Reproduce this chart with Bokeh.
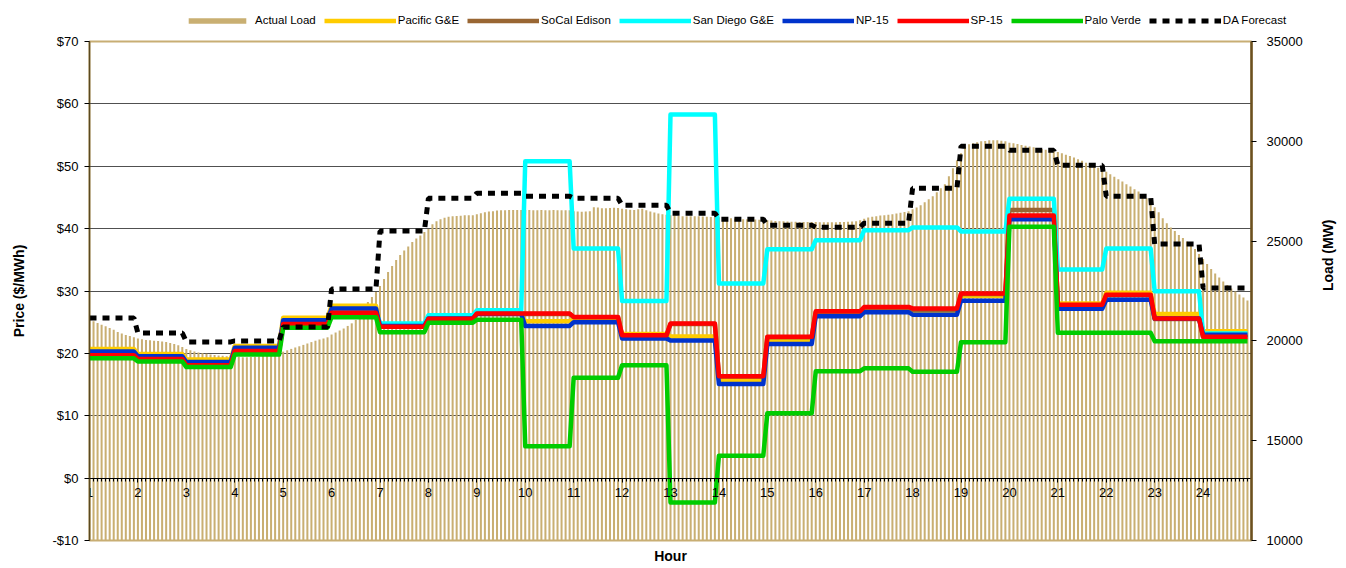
import math
from bokeh.plotting import figure
from bokeh.layouts import column, row
from bokeh.models import (Range1d, LinearAxis, Legend, LegendItem, NumeralTickFormatter,
                          FixedTicker, Title)
from bokeh.embed import file_html
from bokeh.resources import INLINE

FONT = "Liberation Sans"

hours = list(range(1, 25))
price_ticks = [-10, 0, 10, 20, 30, 40, 50, 60, 70]
load_ticks = [10000, 15000, 20000, 25000, 30000, 35000]
intervals_per_hour = 12

# hourly prices ($/MWh)
pacific_ge = [20.7, 19.9, 19.0, 21.2, 25.7, 27.65, 24.5, 25.7, 26.3, 25.15, 25.5, 23.1,
              22.7, 15.75, 22.05, 26.3, 27.0, 26.8, 29.2, 42.0, 28.0, 29.7, 26.3, 23.55]
socal_edison = [19.8, 19.2, 18.2, 20.5, 24.8, 26.6, 24.3, 25.6, 26.4, 26.3, 25.8, 22.8,
                24.7, 16.3, 22.6, 26.6, 27.3, 27.0, 29.5, 43.0, 27.7, 29.3, 25.5, 22.6]
san_diego_ge = [19.9, 19.3, 18.3, 20.6, 24.9, 26.7, 24.8, 26.1, 26.9, 50.8, 36.8, 28.4,
                58.3, 31.2, 36.7, 38.15, 39.75, 40.2, 39.55, 44.8, 33.45, 36.8, 29.95, 23.2]
np_15 = [20.3, 19.55, 18.6, 20.9, 25.3, 27.2, 24.4, 25.6, 26.3, 24.4, 25.0, 22.4,
         22.05, 15.1, 21.5, 25.95, 26.6, 26.2, 28.45, 41.5, 27.15, 28.6, 25.6, 23.0]
sp_15 = [19.7, 19.1, 18.1, 20.4, 24.7, 26.5, 24.25, 25.55, 26.4, 26.4, 25.85, 22.9,
         24.8, 16.35, 22.65, 26.75, 27.45, 27.2, 29.6, 42.1, 27.8, 29.4, 25.6, 22.65]
palo_verde = [19.2, 18.7, 17.8, 19.8, 24.1, 25.8, 23.4, 24.9, 25.4, 5.1, 16.1, 18.1,
              -3.9, 3.6, 10.4, 17.15, 17.6, 17.05, 21.8, 40.3, 23.3, 23.3, 21.95, 21.95]

# day-ahead load forecast (MW), hourly
da_forecast = [21150, 20400, 19950, 20000, 20700, 22600, 25500, 27150, 27400, 27250, 27150, 26800,
               26400, 26100, 25800, 25700, 25900, 27650, 29750, 29550, 28800, 27250, 24850, 22650]

# actual load (MW), 5-minute intervals, one row per hour
actual_load = [
    21100, 20980, 20900, 20810, 20740, 20650, 20560, 20450, 20370, 20300, 20240, 20180,
    20120, 20080, 20050, 20030, 20010, 19990, 19970, 19940, 19900, 19850, 19780, 19700,
    19600, 19530, 19470, 19420, 19380, 19350, 19320, 19290, 19270, 19250, 19230, 19220,
    19200, 19190, 19180, 19180, 19190, 19200, 19220, 19250, 19290, 19330, 19380, 19420,
    19460, 19530, 19600, 19670, 19730, 19800, 19870, 19940, 20010, 20070, 20120, 20180,
    20320, 20420, 20520, 20620, 20750, 20880, 21050, 21250, 21550, 21950, 22200, 22450,
    22750, 23100, 23450, 23750, 24050, 24300, 24530, 24730, 24950, 25130, 25280, 25450,
    25600, 25850, 26000, 26100, 26170, 26220, 26250, 26260, 26270, 26290, 26300, 26300,
    26350, 26400, 26450, 26480, 26500, 26530, 26550, 26550, 26560, 26560, 26560, 26560,
    26560, 26560, 26550, 26550, 26560, 26550, 26550, 26560, 26550, 26550, 26540, 26540,
    26500, 26480, 26470, 26480, 26500, 26700, 26680, 26650, 26650, 26660, 26670, 26660,
    26620, 26600, 26570, 26560, 26600, 26620, 26540, 26480, 26430, 26380, 26340, 26320,
    26300, 26280, 26260, 26250, 26250, 26250, 26240, 26240, 26230, 26220, 26210, 26200,
    26190, 26180, 26160, 26150, 26130, 26110, 26100, 26090, 26080, 26080, 26070, 26070,
    26050, 26030, 26010, 26000, 25990, 25980, 25970, 25970, 25960, 25960, 25960, 25960,
    25960, 25950, 25950, 25950, 25950, 25950, 25960, 25960, 25970, 25980, 26000, 26050,
    26120, 26180, 26220, 26250, 26280, 26300, 26320, 26350, 26380, 26420, 26460, 26500,
    26600, 26680, 26800, 26950, 27100, 27250, 27450, 27650, 27850, 28250, 28650, 29050,
    29400, 29700, 29850, 29900, 29950, 30000, 30020, 30050, 30050, 30050, 30030, 30000,
    29930, 29900, 29860, 29820, 29780, 29740, 29700, 29660, 29620, 29580, 29540, 29500,
    29460, 29400, 29330, 29260, 29190, 29100, 29020, 28930, 28850, 28760, 28670, 28570,
    28470, 28350, 28230, 28100, 27980, 27850, 27730, 27600, 27480, 27350, 27150, 26950,
    26700, 26450, 26150, 25900, 25680, 25500, 25300, 25150, 24980, 24800, 24600, 24350,
    24100, 23850, 23600, 23380, 23180, 22980, 22800, 22630, 22480, 22330, 22180, 22020,
]

load_x = [h + k / intervals_per_hour for h in hours for k in range(intervals_per_hour)]
last_offset = (intervals_per_hour - 1) / intervals_per_hour

LOAD_COLOR = "#C9AF72"
series = [
    ("Pacific G&E", pacific_ge, "#FFCC00"),
    ("SoCal Edison", socal_edison, "#996633"),
    ("San Diego G&E", san_diego_ge, "#00FFFF"),
    ("NP-15", np_15, "#0033CC"),
    ("SP-15", sp_15, "#FF0000"),
    ("Palo Verde", palo_verde, "#00CC00"),
]
PRICE_LW = 4.5
DA_STYLE = dict(line_color="black", line_width=5, line_dash="7 6")


def hourly_steps(vals):
    xs, ys = [], []
    for h, v in zip(hours, vals):
        xs += [h, h + last_offset]
        ys += [v, v]
    return xs, ys


# ---------------- main chart ----------------
p = figure(width=1346, height=535, x_range=Range1d(1, 25), y_range=Range1d(-10, 70),
           output_backend="svg", toolbar_location=None,
           min_border_left=89, min_border_right=89, min_border_top=8, min_border_bottom=27)
p.extra_y_ranges = {"load": Range1d(10000, 35000)}

p.background_fill_color = "white"
p.outline_line_color = "#C8AE74"
p.outline_line_width = 2

p.xgrid.visible = False
p.ygrid.ticker = FixedTicker(ticks=price_ticks)
p.ygrid.grid_line_color = "#505050"
p.ygrid.grid_line_width = 1

xa = p.xaxis[0]
xa.fixed_location = 0
xa.ticker = FixedTicker(ticks=hours, minor_ticks=load_x)
xa.major_label_text_font = FONT
xa.major_label_text_font_size = "13px"
xa.major_label_text_color = "black"
xa.major_label_standoff = 6
xa.axis_line_color = "black"
xa.axis_line_width = 1
xa.major_tick_out = 4
xa.major_tick_in = 0
xa.minor_tick_out = 3
xa.minor_tick_in = 0
xa.major_tick_line_color = "black"
xa.minor_tick_line_color = "black"

p.add_layout(Title(text="Hour", align="center", text_font=FONT, text_font_size="14px",
                   text_font_style="bold", text_color="black", standoff=10), "below")

ya = p.yaxis[0]
ya.ticker = FixedTicker(ticks=price_ticks)
ya.formatter = NumeralTickFormatter(format="$0")
ya.axis_label = "Price ($/MWh)"
ya.axis_label_text_font = FONT
ya.axis_label_text_font_size = "14px"
ya.axis_label_text_font_style = "bold"
ya.axis_label_text_color = "black"
ya.axis_label_standoff = 22
ya.major_label_text_font = FONT
ya.major_label_text_font_size = "13px"
ya.major_label_text_color = "black"
ya.major_label_standoff = 6
ya.major_tick_out = 5
ya.major_tick_in = 0
ya.minor_tick_line_color = None
ya.axis_line_color = "#5a4a20"
ya.axis_line_width = 1.5

ra = LinearAxis(y_range_name="load", ticker=FixedTicker(ticks=load_ticks),
                axis_label="Load (MW)")
ra.axis_label_text_font = FONT
ra.axis_label_text_font_size = "14px"
ra.axis_label_text_font_style = "bold"
ra.axis_label_text_color = "black"
ra.axis_label_standoff = 22
if "axis_label_orientation" in ra.properties():
    ra.axis_label_orientation = math.pi / 2
ra.major_label_text_font = FONT
ra.major_label_text_font_size = "13px"
ra.major_label_text_color = "black"
ra.major_label_standoff = 10
ra.major_tick_out = 5
ra.major_tick_in = 0
ra.minor_tick_line_color = None
ra.axis_line_color = "#6b5020"
ra.axis_line_width = 2.5
p.add_layout(ra, "right")

p.vbar(x=load_x, top=actual_load, bottom=10000, width=0.5 / intervals_per_hour,
       y_range_name="load", fill_color=LOAD_COLOR, line_color=None)
for name, vals, color in series:
    xs, ys = hourly_steps(vals)
    p.line(xs, ys, line_color=color, line_width=PRICE_LW, line_join="round")
dx, dy = hourly_steps(da_forecast)
p.line(dx, dy, y_range_name="load", **DA_STYLE)

# ---------------- legend strip ----------------
lg = figure(width=1346, height=33, x_range=Range1d(0, 1), y_range=Range1d(0, 1),
            output_backend="svg", toolbar_location=None,
            x_axis_location=None, y_axis_location=None, min_border=0)
lg.outline_line_color = None
lg.grid.visible = False

# legend-only renderers: a single point placed outside the visible range
items = [LegendItem(label="Actual Load",
                    renderers=[lg.vbar(x=[-5], top=[-5], width=0.1, fill_color=LOAD_COLOR,
                                       line_color=None)])]
for name, vals, color in series:
    items.append(LegendItem(label=name,
                            renderers=[lg.line([-5], [-5], line_color=color,
                                               line_width=PRICE_LW)]))
items.append(LegendItem(label="DA Forecast", renderers=[lg.line([-5], [-5], **DA_STYLE)]))

legend = Legend(items=items, orientation="horizontal", location=(181, 7),
                glyph_width=72, glyph_height=7, label_standoff=2, spacing=8,
                label_text_font=FONT, label_text_font_size="11.5px", label_text_color="black",
                padding=0, margin=0, border_line_color=None, background_fill_alpha=0)
lg.add_layout(legend)

layout = column(row(lg), p, spacing=0)
open("out.html", "w").write(file_html(layout, INLINE))
